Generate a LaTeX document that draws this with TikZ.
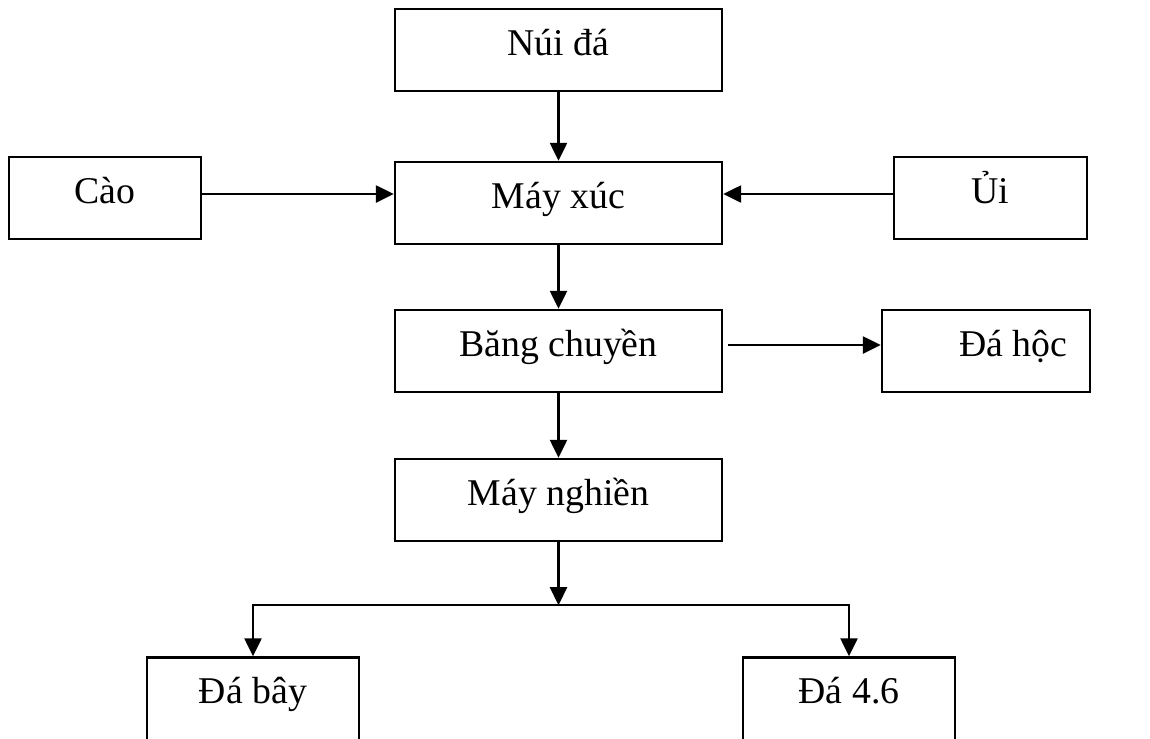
\documentclass[tikz,border=0pt]{standalone}
\usepackage{fontspec}
\setmainfont{Liberation Serif}
\usetikzlibrary{arrows.meta}

\begin{document}
\begin{tikzpicture}[x=0.02cm, y=-0.02cm, line width=1.4pt,
                    >={Triangle[length=0.36cm, width=0.34cm]},
                    blk/.style={draw, rectangle, inner sep=0pt,
                                align=center, minimum width=#1,
                                text height=0.92cm, text depth=0.72cm,
                                font=\fontsize{21.5}{26}\selectfont}]
  \useasboundingbox (0,0) rectangle (1150,738);

  \node[blk=6.54cm] (nui) at (558.5,50) {Núi đá};
  \node[blk=6.54cm] (xuc) at (558.5,203) {Máy xúc};
  \node[blk=3.84cm] (cao) at (105,198) {Cào};
  \node[blk=3.86cm] (ui) at (990.5,198) {Ủi};
  \node[blk=6.54cm] (bang) at (558.5,351) {Băng chuyền};
  \node[blk=4.16cm] (hoc) at (986,351) {\hspace*{1.1cm}Đá hộc};
  \node[blk=6.54cm] (nghien) at (558.5,500) {Máy nghiền};
  \node[blk=4.24cm, text depth=0.78cm] (bay) at (253,700) {Đá bây};
  \node[blk=4.24cm, text depth=0.78cm] (so46) at (849,700) {Đá 4.6};

  \foreach \a/\b in {nui/xuc, xuc/bang, bang/nghien} {
      \draw[->] (\a) -- (\b);
  }
  \coordinate (caoE) at ([yshift=0.08cm]cao.east);
  \coordinate (uiW) at ([yshift=0.08cm]ui.west);
  \coordinate (bangE) at ([yshift=0.12cm]bang.east);
  \draw[->] (caoE) -- (xuc.west |- caoE);
  \draw[->] (uiW) -- (xuc.east |- uiW);
  \draw[->, shorten <=0.1cm] (bangE) -- (hoc.west |- bangE);

  \coordinate (j) at ([yshift=-1.26cm]nghien.south);
  \draw[->] (nghien) -- (j);
  \draw[<->] (bay.north) |- (j) -| (so46.north);
\end{tikzpicture}
\end{document}
